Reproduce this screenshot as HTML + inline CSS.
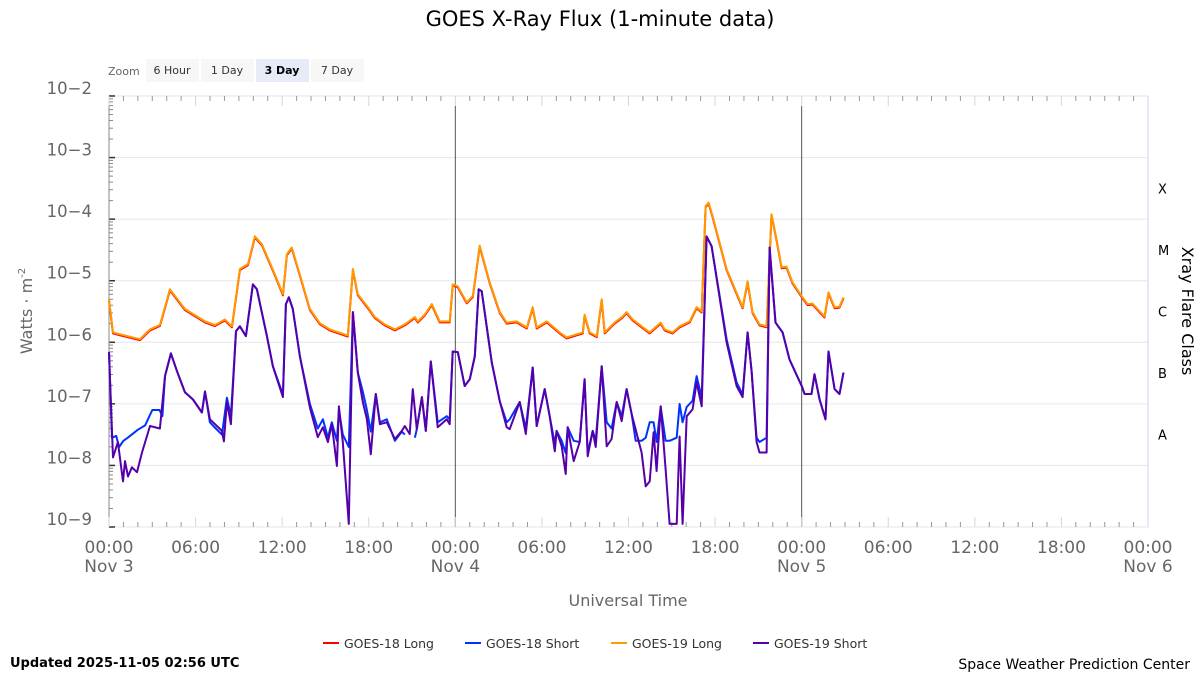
<!DOCTYPE html>
<html><head><meta charset="utf-8"><style>
body{margin:0;width:1200px;height:675px;background:#fff;font-family:"DejaVu Sans",sans-serif;overflow:hidden}
svg{position:absolute;left:0;top:0}
text{font-family:"DejaVu Sans",sans-serif}
</style></head><body>
<svg width="1200" height="675" id="chart">
<text x="600" y="26" text-anchor="middle" font-size="21" fill="#000">GOES X-Ray Flux (1-minute data)</text>
<g>
<text x="108" y="75" font-size="11" fill="#666">Zoom</text>
<rect x="146" y="59" width="53" height="23" fill="#f7f7f7"/>
<text x="172" y="74" font-size="11" text-anchor="middle" fill="#333">6 Hour</text>
<rect x="201" y="59" width="53" height="23" fill="#f7f7f7"/>
<text x="227" y="74" font-size="11" text-anchor="middle" fill="#333">1 Day</text>
<rect x="256" y="59" width="53" height="23" fill="#e6ebf5"/>
<text x="282" y="74" font-size="11" text-anchor="middle" font-weight="bold" fill="#000">3 Day</text>
<rect x="311" y="59" width="53" height="23" fill="#f7f7f7"/>
<text x="337" y="74" font-size="11" text-anchor="middle" fill="#333">7 Day</text>
</g>
<g id="grid"></g><g id="axes"></g><g id="series"></g>
<text x="0" y="0" transform="translate(32,311) rotate(-90)" text-anchor="middle" font-size="16" fill="#666">Watts · m<tspan font-size="10" dy="-7">-2</tspan></text>
<text x="0" y="0" transform="translate(1182,311) rotate(90)" text-anchor="middle" font-size="16" fill="#000">Xray Flare Class</text>
<text x="628" y="606" text-anchor="middle" font-size="16" fill="#666">Universal Time</text>
<g>
<line x1="323" y1="643" x2="339" y2="643" stroke="#ff0000" stroke-width="2"/>
<text x="344" y="648" font-size="12.5" fill="#333">GOES-18 Long</text>
<line x1="465" y1="643" x2="481" y2="643" stroke="#0033ff" stroke-width="2"/>
<text x="486" y="648" font-size="12.5" fill="#333">GOES-18 Short</text>
<line x1="611" y1="643" x2="627" y2="643" stroke="#ff9900" stroke-width="2"/>
<text x="632" y="648" font-size="12.5" fill="#333">GOES-19 Long</text>
<line x1="753" y1="643" x2="769" y2="643" stroke="#5500aa" stroke-width="2"/>
<text x="774" y="648" font-size="12.5" fill="#333">GOES-19 Short</text>
</g>
<text x="10" y="667" font-size="13" font-weight="bold" fill="#000">Updated 2025-11-05 02:56 UTC</text>
<text x="1190" y="669" font-size="14" text-anchor="end" fill="#000">Space Weather Prediction Center</text>
</svg>
<script>
const yTickExps=[-2,-3,-4,-5,-6,-7,-8,-9];
const classLabels=['X','M','C','B','A'];
const classExps=[-4,-5,-6,-7,-8];
const xTickHours=[0,6,12,18,24,30,36,42,48,54,60,66,72];
const xTickLabels=['00:00','06:00','12:00','18:00','00:00','06:00','12:00','18:00','00:00','06:00','12:00','18:00','00:00'];
const dayLabels=['Nov 3','','','','Nov 4','','','','Nov 5','','','','Nov 6'];
const dayLineHours=[24,48];
const longT=[0,0.28,0.76,2.15,2.84,3.53,4.22,5.26,6.65,7.34,8.03,8.52,9.07,9.63,10.11,10.6,11.5,12.05,12.33,12.67,13.23,13.92,14.61,15.3,16.55,16.9,17.24,17.94,18.42,19.11,19.81,20.5,21.19,21.4,21.88,22.37,22.92,23.61,23.82,24.17,24.79,25.21,25.69,26.39,27.08,27.56,28.25,28.95,29.36,29.64,30.33,31.23,31.72,32.83,32.96,33.31,33.8,34.14,34.35,35.04,35.6,35.87,36.29,37.47,38.23,38.5,39.06,39.54,40.24,40.72,41.07,41.34,41.55,41.83,42.8,43.91,44.25,44.6,45.08,45.57,45.91,46.26,46.61,46.95,47.37,48.06,48.41,48.75,49.1,49.58,49.86,50.28,50.62,50.9];
const longV=[-5.3,-5.84,-5.87,-5.95,-5.79,-5.72,-5.14,-5.46,-5.66,-5.72,-5.63,-5.74,-4.81,-4.73,-4.28,-4.41,-4.9,-5.22,-4.57,-4.46,-4.9,-5.46,-5.69,-5.79,-5.89,-4.81,-5.22,-5.43,-5.59,-5.71,-5.79,-5.71,-5.59,-5.66,-5.55,-5.38,-5.66,-5.66,-5.06,-5.09,-5.35,-5.25,-4.43,-5.03,-5.51,-5.68,-5.66,-5.76,-5.43,-5.76,-5.66,-5.84,-5.92,-5.84,-5.55,-5.84,-5.9,-5.3,-5.84,-5.68,-5.58,-5.51,-5.63,-5.84,-5.68,-5.79,-5.84,-5.74,-5.66,-5.43,-5.5,-3.79,-3.73,-3.95,-4.81,-5.43,-5.01,-5.51,-5.71,-5.74,-3.92,-4.33,-4.78,-4.77,-5.03,-5.27,-5.38,-5.37,-5.46,-5.58,-5.19,-5.43,-5.42,-5.27];
const shortT=[0,0.21,0.28,0.62,0.97,1.11,1.32,1.59,1.94,2.29,2.84,3.53,3.88,4.29,4.71,5.26,5.82,6.44,6.65,6.99,7.83,7.96,8.17,8.45,8.8,9.07,9.49,9.97,10.25,10.94,11.36,12.05,12.26,12.47,12.74,13.23,13.92,14.47,14.82,15.17,15.44,15.79,15.93,16.2,16.62,16.9,17.24,17.59,17.87,18.14,18.49,18.77,19.25,19.81,20.29,20.5,20.84,21.05,21.33,21.68,21.95,22.3,22.78,23.41,23.61,23.82,24.17,24.65,25,25.35,25.62,25.83,26.52,27.08,27.56,27.77,28.46,28.88,29.36,29.64,30.19,30.54,30.89,31.02,31.37,31.65,31.79,32.2,32.62,32.96,33.17,33.52,33.73,34.14,34.49,34.83,35.18,35.53,35.87,36.22,36.91,37.19,37.47,37.74,37.95,38.23,38.57,38.85,39.34,39.54,39.75,40.03,40.44,40.72,41.07,41.41,41.76,42.8,43.49,43.91,44.25,44.53,44.88,45.08,45.57,45.78,46.19,46.68,47.16,48,48.2,48.68,48.89,49.24,49.65,49.86,50.28,50.62,50.9];
const shortV=[-6.16,-7.46,-7.87,-7.62,-8.26,-7.93,-8.18,-8.03,-8.11,-7.79,-7.36,-7.4,-6.55,-6.18,-6.47,-6.81,-6.93,-7.14,-6.8,-7.25,-7.44,-7.61,-6.97,-7.33,-5.82,-5.74,-5.9,-5.06,-5.14,-5.9,-6.39,-6.89,-5.38,-5.27,-5.46,-6.23,-7.06,-7.54,-7.38,-7.62,-7.33,-8.01,-7.04,-7.62,-8.95,-5.51,-6.49,-6.97,-7.25,-7.82,-6.84,-7.33,-7.3,-7.57,-7.44,-7.36,-7.49,-6.76,-7.41,-6.89,-7.44,-6.31,-7.38,-7.25,-7.33,-6.15,-6.16,-6.71,-6.6,-6.23,-5.14,-5.17,-6.32,-6.96,-7.38,-7.41,-6.97,-7.49,-6.41,-7.36,-6.76,-7.2,-7.77,-7.44,-7.69,-8.14,-7.38,-7.93,-7.62,-6.6,-7.85,-7.44,-7.7,-6.39,-7.69,-7.57,-6.97,-7.28,-6.76,-7.17,-7.79,-8.34,-8.26,-7.46,-8.09,-7.04,-8.06,-8.95,-8.95,-7.53,-8.95,-7.2,-7.09,-6.65,-7.04,-4.28,-4.44,-6,-6.71,-6.89,-5.84,-6.47,-7.62,-7.79,-7.79,-4.46,-5.68,-5.84,-6.28,-6.71,-6.84,-6.84,-6.52,-6.93,-7.25,-6.15,-6.76,-6.84,-6.49];
const short18T=[0,0.21,0.5,0.7,1,1.3,2,2.5,3,3.5,3.7,3.88,4.29,4.71,5.26,5.82,6.44,6.65,6.99,7.4,7.83,8.17,8.45,8.8,9.07,9.49,9.97,10.25,10.94,11.36,12.05,12.26,12.47,12.74,13.23,13.92,14.47,14.82,15.17,15.44,15.79,15.93,16.2,16.62,16.9,17.24,17.59,17.87,18.14,18.49,18.77,19.25,19.81,20.29,20.5,null,21.2,21.33,21.68,21.95,22.3,22.78,23.41,23.61,23.82,24.17,24.65,25,25.35,25.62,25.83,26.52,27.08,27.56,27.77,28.46,28.88,29.36,29.64,30.19,30.54,30.89,31.02,31.37,31.65,31.79,32.2,32.62,32.96,33.17,33.52,33.73,34.14,34.49,34.83,35.18,35.53,35.87,36.22,36.5,36.91,37.19,37.47,37.74,37.95,38.23,38.57,38.85,39.34,39.54,39.75,40.03,40.44,40.72,41.07,41.41,41.76,42.8,43.49,43.91,44.25,44.53,44.88,45.08,45.57,45.78,46.19,46.68,47.16,48,48.2,48.68,48.89,49.24,49.65,49.86,50.28,50.62,50.9];
const short18V=[-6.16,-7.55,-7.52,-7.7,-7.6,-7.55,-7.42,-7.35,-7.1,-7.1,-7.2,-6.55,-6.18,-6.47,-6.81,-6.93,-7.14,-6.8,-7.3,-7.4,-7.5,-6.9,-7.2,-5.82,-5.74,-5.9,-5.06,-5.14,-5.9,-6.39,-6.85,-5.38,-5.27,-5.46,-6.23,-7.0,-7.4,-7.25,-7.55,-7.3,-7.6,-7.1,-7.5,-7.7,-5.51,-6.49,-6.8,-7.1,-7.45,-6.84,-7.3,-7.25,-7.6,-7.45,-7.5,null,-7.55,-7.41,-6.89,-7.44,-6.31,-7.3,-7.2,-7.25,-6.15,-6.16,-6.71,-6.6,-6.23,-5.14,-5.17,-6.32,-6.96,-7.3,-7.25,-6.97,-7.4,-6.41,-7.36,-6.76,-7.2,-7.65,-7.44,-7.6,-7.8,-7.38,-7.6,-7.62,-6.6,-7.8,-7.44,-7.6,-6.39,-7.3,-7.4,-6.97,-7.2,-6.76,-7.17,-7.6,-7.6,-7.55,-7.3,-7.3,-7.62,-7.05,-7.6,-7.6,-7.55,-7.0,-7.3,-7.05,-6.95,-6.55,-6.9,-4.28,-4.44,-5.95,-6.65,-6.85,-5.84,-6.47,-7.55,-7.62,-7.55,-4.46,-5.68,-5.84,-6.28,-6.71,-6.84,-6.84,-6.52,-6.93,-7.25,-6.15,-6.76,-6.84,-6.49];

const NS='http://www.w3.org/2000/svg';
const X0=109,X1=1148,Y0=96,Y1=527;
function xs(h){return X0+(X1-X0)*h/72;}
function ys(e){return Y0+(Y1-Y0)*(-2-e)/7;}
function mk(tag,attrs,parent){const el=document.createElementNS(NS,tag);for(const k in attrs)el.setAttribute(k,attrs[k]);parent.appendChild(el);return el;}
const grid=document.getElementById('grid'),axes=document.getElementById('axes'),ser=document.getElementById('series');
mk('rect',{x:X0,y:Y0,width:X1-X0,height:Y1-Y0,fill:'none',stroke:'#ccd6eb','stroke-width':1},grid);
yTickExps.forEach(e=>{
  const y=ys(e);
  const g=mk('line',{x1:X0,x2:X1,y1:y,y2:y,stroke:'#e6e6e6','stroke-width':1},grid);
  
  
  const t=mk('text',{x:92,y:y-2,'text-anchor':'end','font-size':16.5,fill:'#666'},axes);
  
  
  t.textContent='10\u2212'+(-e);
  mk('line',{x1:X0,x2:X0+6,y1:y,y2:y,stroke:'#333','stroke-width':1.5},axes);
  if(e>-9){for(let m=2;m<10;m++){const yy=ys(e-1+Math.log10(m));mk('line',{x1:X0,x2:X0+4,y1:yy,y2:yy,stroke:'#888','stroke-width':1},axes);}}
});
mk('line',{x1:X0,x2:X0,y1:Y0,y2:Y1,stroke:'#888','stroke-width':1},axes);
classLabels.forEach((c,i)=>{
  const t=mk('text',{x:1158,y:ys(classExps[i]+0.5)+5,'font-size':13,fill:'#000','font-family':'DejaVu Sans Mono, monospace'},axes);
  
  
  t.textContent=c;
});
for(let h=0;h<=72;h++){
  const x=xs(h);const major=h%6===0;
  mk('line',{x1:x,x2:x,y1:Y1,y2:Y1-(major?10:5),stroke:major?'#ccd6eb':'#999','stroke-width':1},axes);
  mk('line',{x1:x,x2:x,y1:Y0,y2:Y0+(major?10:5),stroke:major?'#ccd6eb':'#999','stroke-width':1},axes);
}
xTickHours.forEach((h,i)=>{
  const t=mk('text',{x:xs(h),y:553,'text-anchor':'middle','font-size':17,fill:'#666'},axes);
  
  
  t.textContent=xTickLabels[i];
  if(dayLabels[i]){const d=mk('text',{x:xs(h),y:572,'text-anchor':'middle','font-size':17,fill:'#666'},axes);
  
  
  d.textContent=dayLabels[i];}
});
dayLineHours.forEach(h=>{
  const l=mk('line',{x1:xs(h),x2:xs(h),y1:106,y2:Y1,stroke:'#555','stroke-width':1},grid);
  
  
});
function path(T,V,dy){let d='',pen=false;for(let i=0;i<T.length;i++){if(T[i]===null){pen=false;continue;}d+=(pen?'L':'M')+xs(T[i]).toFixed(1)+','+(ys(V[i])+dy).toFixed(1);pen=true;}return d;}
function draw(T,V,color,name,dy){
  const p=mk('path',{d:path(T,V,dy),fill:'none',stroke:color,'stroke-width':2,'stroke-linejoin':'round'},ser);
  
  
}
draw(longT,longV,'#ff0000','goes18-long-line',1);
draw(longT,longV,'#ff9900','goes19-long-line',0);
draw(short18T,short18V,'#0033ff','goes18-short-line',0);
draw(shortT,shortV,'#5500aa','goes19-short-line',0);
</script>
</body></html>
